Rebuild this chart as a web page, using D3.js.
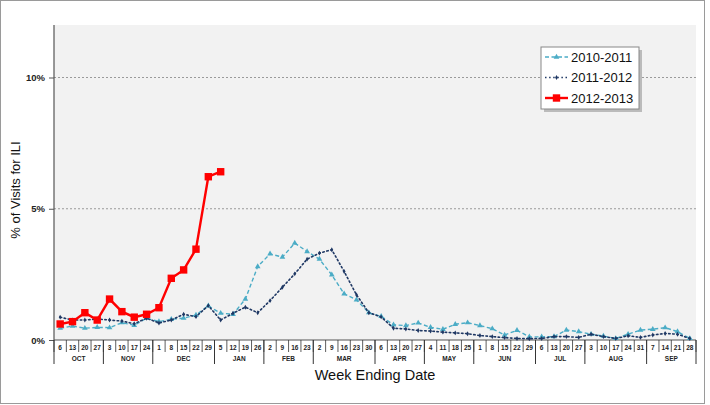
<!DOCTYPE html>
<html><head><meta charset="utf-8">
<script src="https://cdn.jsdelivr.net/npm/d3@7"></script>
<style>body{margin:0;background:#fff;}svg{display:block;font-family:Arial,"Liberation Sans",sans-serif;}</style>
</head><body>
<svg id="c" width="710" height="405"></svg>
<script>
const months = ["OCT","NOV","DEC","JAN","FEB","MAR","APR","MAY","JUN","JUL","AUG","SEP"];
const weekDays = [
  [6,13,20,27],[3,10,17,24],[1,8,15,22,29],[5,12,19,26],[2,9,16,23],[2,9,16,23,30],
  [6,13,20,27],[4,11,18,25],[1,8,15,22,29],[6,13,20,27],[3,10,17,24,31],[7,14,21,28]
];
const yTicks = [0,5,10];
const yTickLabels = ["0%","5%","10%"];
const seriesNames = ["2010-2011","2011-2012","2012-2013"];
const s2010 = [0.45,0.53,0.45,0.48,0.47,0.66,0.56,0.83,0.70,0.79,0.83,0.95,1.30,1.02,0.98,1.56,2.80,3.28,3.16,3.69,3.37,3.08,2.48,1.76,1.53,1.04,0.90,0.58,0.55,0.65,0.48,0.41,0.60,0.66,0.55,0.43,0.19,0.37,0.12,0.12,0.13,0.38,0.32,0.22,0.15,0.06,0.22,0.38,0.41,0.47,0.32,0.06];
const s2011 = [0.87,0.76,0.76,0.80,0.76,0.72,0.62,0.83,0.65,0.76,0.98,0.89,1.31,0.76,1.02,1.25,1.04,1.50,2.01,2.52,3.08,3.31,3.44,2.61,1.72,1.04,0.88,0.45,0.42,0.36,0.34,0.30,0.27,0.24,0.17,0.13,0.09,0.06,0.05,0.06,0.13,0.13,0.10,0.22,0.13,0.06,0.16,0.10,0.19,0.25,0.22,0.06];
const s2012 = [0.61,0.70,1.04,0.76,1.56,1.08,0.87,0.98,1.23,2.35,2.67,3.46,6.22,6.41];

const svg = d3.select("#c");
const L=54, R=696, T=25, B=340;
const nWeeks = 52;
const x = d3.scaleLinear().domain([0,nWeeks]).range([L,R]);
const y = d3.scaleLinear().domain([0,12]).range([B,T]);

svg.append("rect").attr("x",0.5).attr("y",0.5).attr("width",704).attr("height",403).attr("fill","none").attr("stroke","#9a9a9a");
svg.append("rect").attr("x",L).attr("y",T).attr("width",R-L).attr("height",B-T).attr("fill","#f2f2f2");

svg.selectAll(".grid").data(yTicks.filter(d=>d>0)).join("line").attr("class","grid")
  .attr("x1",L).attr("x2",R).attr("y1",d=>y(d)).attr("y2",d=>y(d))
  .attr("stroke","#9a9a9a").attr("stroke-width",1).attr("stroke-dasharray","2,2");

const yAxis = d3.axisLeft(y).tickValues(yTicks).tickFormat((d,i)=>yTickLabels[i]).tickSize(5).tickSizeOuter(0);
const gy = svg.append("g").attr("transform",`translate(${L},0)`).call(yAxis);
gy.select(".domain").remove();
gy.selectAll("line").attr("stroke","#555");
gy.selectAll("text").attr("font-size",9.5).attr("font-weight","bold").attr("fill","#222").attr("dx",-1);
svg.append("line").attr("x1",L).attr("x2",L).attr("y1",T).attr("y2",B).attr("stroke","#555").attr("stroke-width",1.2);

svg.append("line").attr("x1",L).attr("x2",R).attr("y1",B).attr("y2",B).attr("stroke","#555").attr("stroke-width",1.2);
const weeks = [];
const monthStarts = [];
let k=0;
weekDays.forEach((arr,mi)=>{ monthStarts.push({m:mi,start:k,end:k+arr.length}); arr.forEach(d=>{weeks.push({d, i:k}); k++;}); });
const gx = svg.append("g").attr("opacity",0.99);
gx.selectAll(".wt").data(d3.range(nWeeks+1)).join("line").attr("class","wt")
  .attr("x1",d=>x(d)).attr("x2",d=>x(d)).attr("y1",B).attr("y2",352)
  .attr("stroke","#333").attr("stroke-width",0.8);
const mb = monthStarts.map(m=>m.start).concat([nWeeks]);
gx.selectAll(".mt").data(mb).join("line").attr("class","mt")
  .attr("x1",d=>x(d)).attr("x2",d=>x(d)).attr("y1",B).attr("y2",364)
  .attr("stroke","#333").attr("stroke-width",1);
gx.selectAll(".wl").data(weeks).join("text").attr("class","wl")
  .attr("x",d=>x(d.i+0.5)).attr("y",349.5).attr("text-anchor","middle")
  .attr("font-size",6.5).attr("font-weight","bold").attr("fill","#222").text(d=>d.d);
gx.selectAll(".ml").data(monthStarts).join("text").attr("class","ml")
  .attr("x",d=>x((d.start+d.end)/2)).attr("y",361).attr("text-anchor","middle")
  .attr("font-size",6.5).attr("font-weight","bold").attr("fill","#222").text(d=>months[d.m]);

svg.append("text").attr("x",375).attr("y",380).attr("text-anchor","middle").attr("font-size",14.5).attr("fill","#111").text("Week Ending Date");
svg.append("text").attr("transform","translate(20,190) rotate(-90)").attr("text-anchor","middle").attr("font-size",13).attr("fill","#111").text("% of Visits for ILI");

const line = d3.line().x((d,i)=>x(i+0.5)).y(d=>y(d));
const styles = [
  {data:s2010,color:"#4bacc6",w:1.4,dash:"4,2.5",marker:"tri"},
  {data:s2011,color:"#1f3864",w:1.6,dash:"1.5,2.6",marker:"dia"},
  {data:s2012,color:"#ff0000",w:2.4,dash:null,marker:"sq"}
];
function drawMarker(g,type,color,cx,cy){
  if(type==="tri") g.append("path").attr("d",d3.symbol(d3.symbolTriangle,14)()).attr("transform",`translate(${cx},${cy})`).attr("fill",color);
  else if(type==="dia") g.append("path").attr("d",d3.symbol(d3.symbolDiamond,7)()).attr("transform",`translate(${cx},${cy})`).attr("fill",color);
  else g.append("rect").attr("x",cx-3.7).attr("y",cy-3.7).attr("width",7.4).attr("height",7.4).attr("fill",color);
}
styles.forEach(s=>{
  svg.append("path").datum(s.data).attr("d",line).attr("fill","none").attr("stroke",s.color)
    .attr("stroke-width",s.w).attr("stroke-dasharray",s.dash).attr("stroke-linecap",s.marker==="dia"?"round":"butt");
  const g=svg.append("g");
  s.data.forEach((v,i)=>drawMarker(g,s.marker,s.color,x(i+0.5),y(v)));
});

const lg = svg.append("g");
lg.append("rect").attr("x",544).attr("y",50).attr("width",98).attr("height",62).attr("fill","#bbb");
lg.append("rect").attr("x",541).attr("y",47).attr("width",98).attr("height",62).attr("fill","#fff").attr("stroke","#888");
styles.forEach((s,i)=>{
  const yy = 57+i*20.5;
  lg.append("line").attr("x1",545).attr("x2",568).attr("y1",yy).attr("y2",yy).attr("stroke",s.color)
    .attr("stroke-width",s.w).attr("stroke-dasharray",s.dash);
  drawMarker(lg,s.marker,s.color,556.5,yy);
  lg.append("text").attr("x",571).attr("y",yy+4.5).attr("font-size",13).attr("fill","#111").text(seriesNames[i]);
});
</script>
</body></html>
